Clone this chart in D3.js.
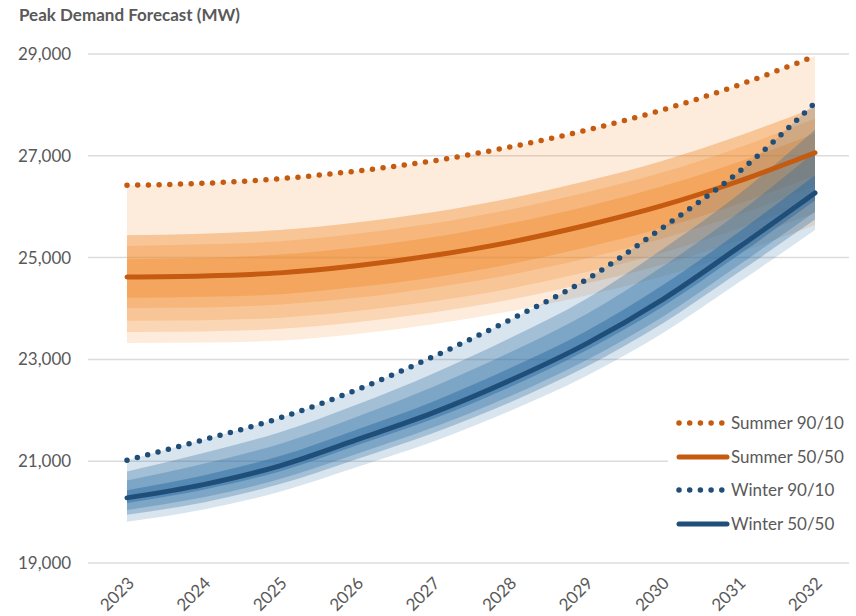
<!DOCTYPE html>
<html>
<head>
<meta charset="utf-8">
<script src="https://cdn.jsdelivr.net/npm/d3@7"></script>
<style>
  html, body { margin: 0; padding: 0; background: #fff; }
  svg { display: block; font-family: Lato, "Open Sans", sans-serif; }
</style>
</head>
<body>
<svg id="chart" width="856" height="616"></svg>
<script>
// Forecast years
const years = [2023, 2024, 2025, 2026, 2027, 2028, 2029, 2030, 2031, 2032];

// Summer peak demand (MW)
const summer5050 = [24620, 24640, 24700, 24840, 25040, 25300, 25630, 26020, 26500, 27060];
const summer9010 = [26420, 26460, 26550, 26700, 26900, 27170, 27500, 27900, 28390, 28960];
// Summer fan band edges
const summerUpper2 = [25440, 25470, 25540, 25690, 25890, 26160, 26500, 26900, 27390, 27950];
const summerUpper3 = [25230, 25260, 25320, 25470, 25670, 25940, 26280, 26670, 27160, 27730];
const summerUpper4 = [24970, 24990, 25060, 25200, 25400, 25670, 26000, 26400, 26880, 27440];
const summerLower1 = [23320, 23330, 23370, 23500, 23690, 23940, 24250, 24630, 25100, 25640];
const summerLower2 = [23540, 23550, 23600, 23730, 23920, 24170, 24490, 24860, 25330, 25880];
const summerLower3 = [23760, 23770, 23820, 23950, 24140, 24390, 24710, 25090, 25570, 26120];
const summerLower4 = [24010, 24020, 24080, 24210, 24410, 24660, 24980, 25370, 25840, 26400];
const summerLower5 = [24210, 24230, 24280, 24420, 24610, 24870, 25200, 25580, 26060, 26610];

// Winter peak demand (MW)
const winter5050 = [20280, 20540, 20910, 21420, 21950, 22580, 23300, 24170, 25200, 26270];
const winter9010 = [21020, 21420, 21850, 22400, 23050, 23770, 24560, 25580, 26680, 28040];
// Winter fan band edges
const winterUpper2 = [20800, 21160, 21570, 22110, 22720, 23410, 24180, 25160, 26240, 27510];
const winterUpper3 = [20620, 20950, 21340, 21870, 22460, 23130, 23880, 24820, 25880, 27080];
const winterUpper4 = [20430, 20720, 21100, 21620, 22170, 22820, 23550, 24450, 25500, 26620];
const winterLower1 = [19810, 20050, 20400, 20880, 21380, 21980, 22670, 23510, 24510, 25540];
const winterLower2 = [19950, 20190, 20550, 21040, 21550, 22150, 22850, 23700, 24710, 25750];
const winterLower3 = [20040, 20290, 20650, 21140, 21660, 22270, 22980, 23830, 24850, 25900];
const winterLower4 = [20180, 20440, 20800, 21310, 21830, 22450, 23170, 24030, 25050, 26120];

// Axis ticks
const yTicks = [19000, 21000, 23000, 25000, 27000, 29000];

const legendItems = [
  { label: "Summer 90/10", color: "#c55a11", dotted: true },
  { label: "Summer 50/50", color: "#c55a11", dotted: false },
  { label: "Winter 90/10", color: "#1f4e79", dotted: true },
  { label: "Winter 50/50", color: "#1f4e79", dotted: false }
];

const svg = d3.select("#chart");
const textColor = "#595959";

const x = d3.scalePoint().domain(years).range([127, 815]);
const y = d3.scaleLinear().domain([19000, 29000]).range([563, 54]);

// Title
svg.append("text")
  .attr("x", 19).attr("y", 21)
  .attr("fill", textColor)
  .attr("font-size", 17).attr("font-weight", "bold")
  .text("Peak Demand Forecast (MW)");

// Horizontal gridlines
svg.append("g").selectAll("line")
  .data(yTicks).join("line")
  .attr("x1", 88).attr("x2", 849)
  .attr("y1", d => y(d)).attr("y2", d => y(d))
  .attr("stroke", "#dcdcdc").attr("stroke-width", 1.5);

// Y axis labels
svg.append("g").selectAll("text")
  .data(yTicks).join("text")
  .attr("x", 18).attr("y", d => y(d))
  .attr("dy", "0.35em")
  .attr("fill", textColor)
  .attr("font-size", 17)
  .text(d => d3.format(",")(d));

// X axis labels, rotated
svg.append("g").selectAll("text")
  .data(years).join("text")
  .attr("transform", d => `translate(${x(d) + 4},${580}) rotate(-45)`)
  .attr("text-anchor", "end")
  .attr("dy", "0.35em")
  .attr("fill", textColor)
  .attr("font-size", 17)
  .text(d => d);

const curve = d3.curveMonotoneX;

function drawFan(bands, color) {
  const g = svg.append("g");
  bands.forEach(b => {
    const area = d3.area()
      .curve(curve)
      .x((d, i) => x(years[i]))
      .y0((d, i) => y(b.lo[i]))
      .y1((d, i) => y(b.hi[i]));
    g.append("path")
      .datum(years)
      .attr("d", area)
      .attr("fill", color)
      .attr("fill-opacity", b.a);
  });
}

drawFan([
  { hi: summer9010, lo: summerLower1, a: 0.16 },
  { hi: summerUpper2, lo: summerLower2, a: 0.2 },
  { hi: summerUpper2, lo: summerLower3, a: 0.2 },
  { hi: summerUpper3, lo: summerLower4, a: 0.22 },
  { hi: summerUpper4, lo: summerLower5, a: 0.3 }
], "rgb(240,130,30)");

drawFan([
  { hi: winter9010, lo: winterLower1, a: 0.18 },
  { hi: winterUpper2, lo: winterLower2, a: 0.3 },
  { hi: winterUpper3, lo: winterLower3, a: 0.3 },
  { hi: winterUpper4, lo: winterLower4, a: 0.45 }
], "rgb(40,105,160)");

function drawLine(values, color, dotted) {
  const line = d3.line()
    .curve(curve)
    .x((d, i) => x(years[i]))
    .y(d => y(d));
  const p = svg.append("path")
    .datum(values)
    .attr("d", line)
    .attr("fill", "none")
    .attr("stroke", color)
    .attr("stroke-linecap", "round");
  if (dotted) {
    p.attr("stroke-width", 5.5).attr("stroke-dasharray", "0,10.7");
  } else {
    p.attr("stroke-width", 5);
  }
}

drawLine(summer9010, "#c55a11", true);
drawLine(summer5050, "#c55a11", false);
drawLine(winter9010, "#1f4e79", true);
drawLine(winter5050, "#1f4e79", false);

// Legend
const legend = svg.append("g");
legend.append("rect")
  .attr("x", 668).attr("y", 404)
  .attr("width", 188).attr("height", 138)
  .attr("fill", "#fff");
const rowY = [423, 457, 490, 524];
legendItems.forEach((item, i) => {
  const ly = rowY[i];
  const l = legend.append("line")
    .attr("x1", 679).attr("x2", item.dotted ? 722 : 727)
    .attr("y1", ly).attr("y2", ly)
    .attr("stroke", item.color)
    .attr("stroke-linecap", "round");
  if (item.dotted) {
    l.attr("stroke-width", 5.5).attr("stroke-dasharray", "0,10.7");
  } else {
    l.attr("stroke-width", 5);
  }
  legend.append("text")
    .attr("x", 731).attr("y", ly)
    .attr("dy", "0.35em")
    .attr("fill", textColor)
    .attr("font-size", 17)
    .text(item.label);
});
</script>
</body>
</html>
